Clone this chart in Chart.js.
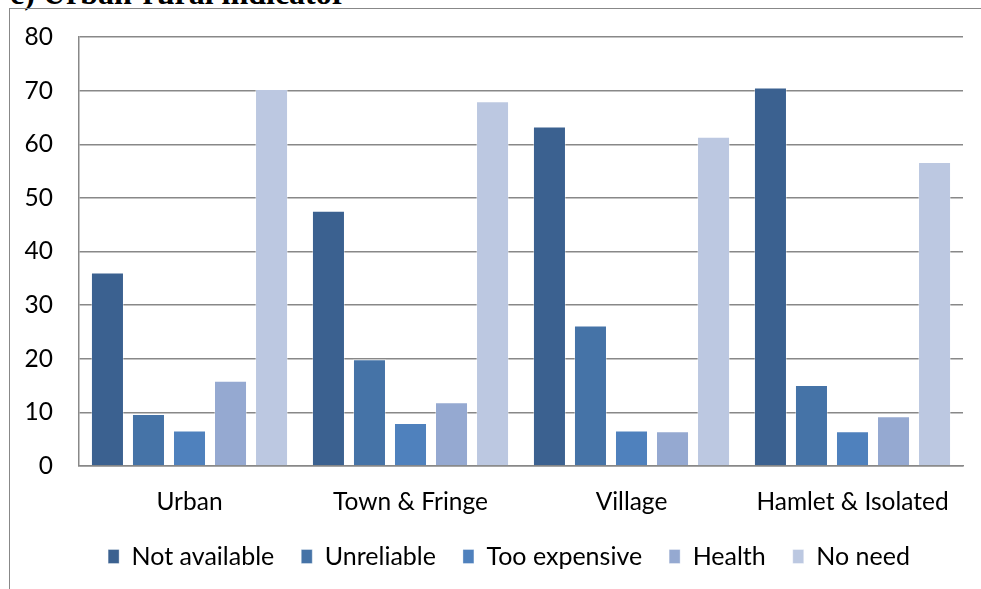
<!DOCTYPE html>
<html>
<head>
<meta charset="utf-8">
<script src="https://cdn.jsdelivr.net/npm/chart.js@4/dist/chart.umd.min.js"></script>
<style>
  html, body { margin: 0; padding: 0; background: #fff; overflow: hidden; }
  body { width: 981px; height: 589px; position: relative; }
  #caption {
    position: absolute; left: 10px; top: -25px;
    font: bold 32px "Liberation Serif", serif; color: #000; white-space: nowrap;
  }
  #frame {
    position: absolute; left: 9px; top: 8px; width: 1000px; height: 620px;
    border: 1px solid #888; box-sizing: border-box;
  }
  #wrap { position: absolute; left: 10px; top: 9px; width: 998px; height: 580px; }
</style>
</head>
<body>
<div id="caption">c) Urban-rural indicator</div>
<div id="frame"></div>
<div id="wrap"><canvas id="myChart"></canvas></div>
<script>
// areas and reasons (percent)
var areas = ['Urban', 'Town & Fringe', 'Village', 'Hamlet & Isolated'];
var reasons = ['Not available', 'Unreliable', 'Too expensive', 'Health', 'No need'];
var notAvailable = [36.1, 47.6, 63.3, 70.6];
var unreliable   = [9.7, 19.9, 26.2, 15.1];
var tooExpensive = [6.6, 8.0, 6.6, 6.5];
var health       = [15.9, 11.9, 6.5, 9.3];
var noNeed       = [70.3, 68.0, 61.4, 56.7];
var yTicks = [0, 10, 20, 30, 40, 50, 60, 70, 80];

var colori = ['#3b6190', '#4573a7', '#4f81bd', '#95a9d1', '#bcc8e1'];
var serie = [notAvailable, unreliable, tooExpensive, health, noNeed];

var fontAssi = { family: 'Lato, "Noto Sans", sans-serif', size: 24.5 };
var fontLegenda = { family: 'Lato, "Noto Sans", sans-serif', size: 25 };

// la legenda va centrata sull'intero riquadro, non solo sull'area del grafico
var legendaCentrata = {
  id: 'legendaCentrata',
  afterLayout: function (chart) {
    chart.legend.left = 0;
    chart.legend.right = chart.width;
    chart.legend.width = chart.width;
  }
};

var ctx = document.getElementById('myChart');
var chart = new Chart(ctx, {
  type: 'bar',
  data: {
    labels: areas,
    datasets: serie.map(function (valori, i) {
      return {
        label: reasons[i],
        data: valori,
        backgroundColor: colori[i],
        borderColor: 'rgba(255,255,255,0.35)',
        borderWidth: 1,
        categoryPercentage: 0.928,
        barPercentage: 0.805
      };
    })
  },
  plugins: [legendaCentrata],
  options: {
    responsive: true,
    maintainAspectRatio: false,
    animation: false,
    layout: { padding: { top: 28, right: 45, left: 0, bottom: 10 } },
    scales: {
      x: {
        grid: { display: false, drawTicks: false },
        border: { color: '#888', width: 1.5 },
        ticks: { color: '#000', font: fontAssi, padding: 21 },
        afterFit: function (scale) { scale.height = 51; }
      },
      y: {
        min: 0,
        max: 80,
        afterBuildTicks: function (scale) {
          scale.ticks = yTicks.map(function (v) { return { value: v }; });
        },
        grid: { color: '#888', lineWidth: 1.5, drawTicks: false },
        border: { color: '#888', width: 1.5 },
        ticks: { color: '#000', font: fontAssi, padding: 26 },
        afterFit: function (scale) {
          scale.width = 69;
          scale.paddingTop = 0;
          scale.paddingBottom = 0;
        }
      }
    },
    plugins: {
      tooltip: { enabled: false },
      legend: {
        position: 'bottom',
        labels: {
          color: '#000',
          font: fontLegenda,
          boxWidth: 11,
          boxHeight: 14,
          padding: 27
        }
      }
    }
  }
});
</script>
</body>
</html>
